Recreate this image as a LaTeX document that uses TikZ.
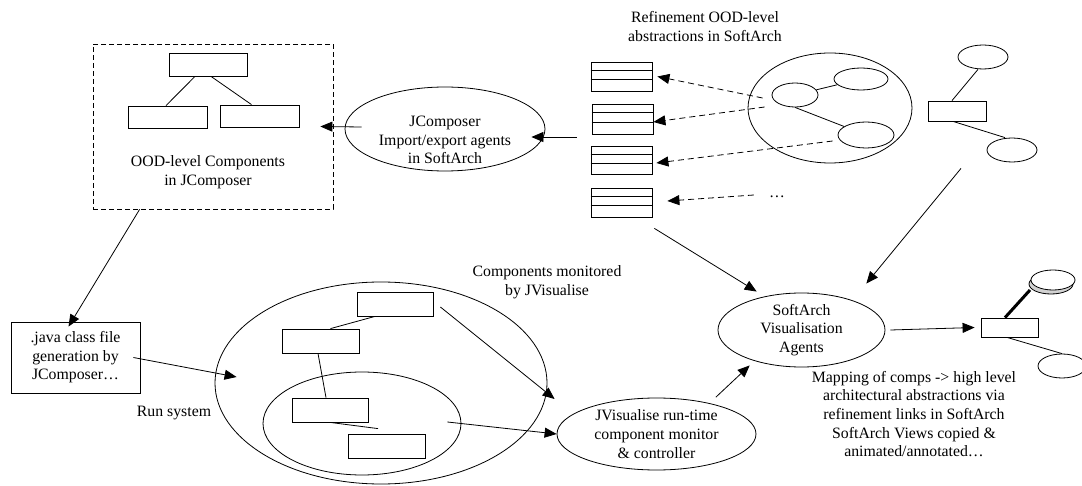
\documentclass[tikz,border=0pt]{standalone}
\usepackage{fontspec}
\setmainfont{Liberation Serif}
\usetikzlibrary{shapes.geometric,arrows.meta,calc}

\begin{document}
\begin{tikzpicture}[x=1pt,y=-1pt,
  every node/.append style={font=\fontsize{15.8}{18.6}\selectfont},
  comp/.style={draw, rectangle, inner sep=0pt, line width=0.8pt},
  oval/.style={draw, ellipse, inner sep=0pt, line width=0.8pt},
  lbl/.style={align=center, inner sep=0pt},
  link/.style={line width=0.8pt},
  arr/.style={link, -{Triangle[length=12pt,width=10pt]}},
  darr/.style={arr, dash pattern=on 6pt off 4pt},
]
\useasboundingbox (0,0) rectangle (1082,486);

% ---- OOD-level components (JComposer) ----
\node[comp, dash pattern=on 5pt off 3pt, minimum width=240pt, minimum height=165pt] (ood) at (213,126.5) {};
\node[comp, minimum width=78pt, minimum height=23pt] (t0) at (208,64.5) {};
\node[comp, minimum width=79pt, minimum height=22pt] (bl) at (167.5,117) {};
\node[comp, minimum width=79pt, minimum height=22pt] (br) at (259.5,116) {};
\draw[link] ([xshift=-13pt]t0.south) -- ([xshift=-1.5pt]bl.north);
\draw[link] ([xshift=3pt]t0.south) -- ([xshift=-8pt]br.north);
\node[lbl] (oodl) at (208,172.5) {OOD-level Components\\in JComposer};

% ---- import/export agents ----
\node[oval, minimum width=200pt, minimum height=84pt] (jc) at (445,129) {};
\node[lbl] (jct) at (445,140) {JComposer\\Import/export agents\\in SoftArch};

% ---- refinement abstractions ----
\node[lbl] (refl) at (705,26.5) {Refinement OOD-level\\abstractions in SoftArch};
\foreach \n/\x/\y/\h in {sv1/621.5/76.5/29, sv2/622.5/119/30, sv3/621.5/160/28, sv4/621.5/202.5/29} {
  \node[comp, minimum width=61pt, minimum height=\h] (\n) at (\x,\y) {};
  \draw[link] ($(\n.north west)!0.3!(\n.south west)$) -- ($(\n.north east)!0.3!(\n.south east)$);
  \draw[link] ($(\n.north west)!0.61!(\n.south west)$) -- ($(\n.north east)!0.61!(\n.south east)$);
}
\node[oval, minimum width=164pt, minimum height=110pt] (cl) at (830,108) {};
\node[oval, minimum width=46pt, minimum height=24pt] (ca) at (795,95) {};
\node[oval, minimum width=54pt, minimum height=22pt] (cb) at (861,79) {};
\node[oval, minimum width=56pt, minimum height=26pt] (cc) at (866,135) {};
\draw[link] (ca) -- (cb);
\draw[link] (ca.south) -- (cc);
\node[lbl] (more) at (777,197) {…};
\draw[darr] ($(ca.west)+(-9,3)$) -- ($(sv1.east)+(5,0)$);
\draw[darr] ($(ca.west)+(-7,12)$) -- ($(sv2.east)+(0,3)$);
\draw[darr] ($(cc.west)+(-5,6)$) -- ($(sv3.east)+(4,3)$);
\draw[darr] ($(more.west)+(-15,-2)$) -- ($(sv4.east)+(15,-1.5)$);

% ---- high-level architecture view ----
\node[comp, minimum width=58pt, minimum height=20pt] (r0) at (957,111) {};
\node[oval, minimum width=50pt, minimum height=24pt] (te) at (983,57) {};
\node[oval, minimum width=50pt, minimum height=24pt] (be) at (1012,150) {};
\draw[link] ([xshift=-5pt]te.south) -- ([xshift=-5pt]r0.north);
\draw[link] ([xshift=-4pt]r0.south) -- ([xshift=-7pt]be.north);

% ---- visualisation agents ----
\node[oval, minimum width=167pt, minimum height=74pt, align=center] (sav) at (801.5,330) {SoftArch\\Visualisation\\Agents};
\node[comp, minimum width=57pt, minimum height=19pt] (rr) at (1009.5,327.5) {};
\draw[line width=3pt] ([xshift=-4.5pt]rr.north) -- (1030,290);
\node[oval, fill=gray!35, minimum width=44pt, minimum height=20pt] (tsh) at (1051,284) {};
\node[oval, fill=white, minimum width=44pt, minimum height=20pt] (tfr) at (1053,280) {};
\node[oval, minimum width=48pt, minimum height=24pt] (bre) at (1062,366) {};
\draw[link] ([xshift=-2.5pt]rr.south) -- (bre.north);
\node[lbl] (mapl) at (914,414) {Mapping of comps -> high level\\architectural abstractions via\\refinement links in SoftArch\\SoftArch Views copied \&\\animated/annotated…};

% ---- code generation and run system ----
\node[comp, minimum width=129pt, minimum height=71pt, align=center] (jb) at (75.5,357.5) {.java class file\\generation by\\JComposer…};
\node[oval, minimum width=332pt, minimum height=202pt] (rs) at (381,383) {};
\node[oval, minimum width=198pt, minimum height=103pt] (ie) at (362,423.5) {};
\node[comp, minimum width=76pt, minimum height=24pt] (R1) at (395,304) {};
\node[comp, minimum width=77pt, minimum height=24pt] (R2) at (320.5,341) {};
\node[comp, minimum width=76pt, minimum height=24pt] (R3) at (330,410) {};
\node[comp, minimum width=77pt, minimum height=24pt] (R4) at (386.5,446) {};
\draw[link] ([xshift=-20pt]R1.south) -- ([xshift=10pt]R2.north);
\draw[link] ([xshift=-2.5pt]R2.south) -- ([xshift=-4pt]R3.north);
\draw[link] (R3.south) -- ($(R4.north)+(-8.5,-5)$);
\node[lbl] (rsl) at (174,413) {Run system};
\node[lbl] (cml) at (547,282) {Components monitored\\by JVisualise};
\node[oval, minimum width=199pt, minimum height=72pt, align=center] (jv) at (656.5,434) {JVisualise run-time\\component monitor\\\& controller};

% ---- flow arrows ----
\draw[arr] ($(jc.west)+(17,-2)$) -- ($(ood.east)+(-13,0)$);
\draw[arr] ($(sv2.west)+(-15,18)$) -- ($(jc.east)+(-14,8)$);
\draw[arr] ($(ood.south west)+(47,0)$) -- ($(jb.north)+(-7,5)$);
\draw[arr] ($(jb.east)+(-7,0)$) -- ($(rs.west)+(22,-6)$);
\draw[arr] ($(R1.east)+(7,3)$) -- ($(jv.west)+(-2,-35)$);
\draw[arr] ($(ie.east)+(-14,-1.5)$) -- (jv.west);
\draw[arr] ($(jv.30)+(6,-6)$) -- ($(sav.south west)+(7.5,9)$);
\draw[arr] ($(sv4.south east)+(2,11)$) -- ($(sav.north west)+(14.5,-12)$);
\draw[arr] ($(r0.south)+(4,47)$) -- ($(sav.north east)+(5.5,-20)$);
\draw[arr] ([xshift=5pt]sav.east) -- ([xshift=-6pt]rr.west);
\end{tikzpicture}
\end{document}
